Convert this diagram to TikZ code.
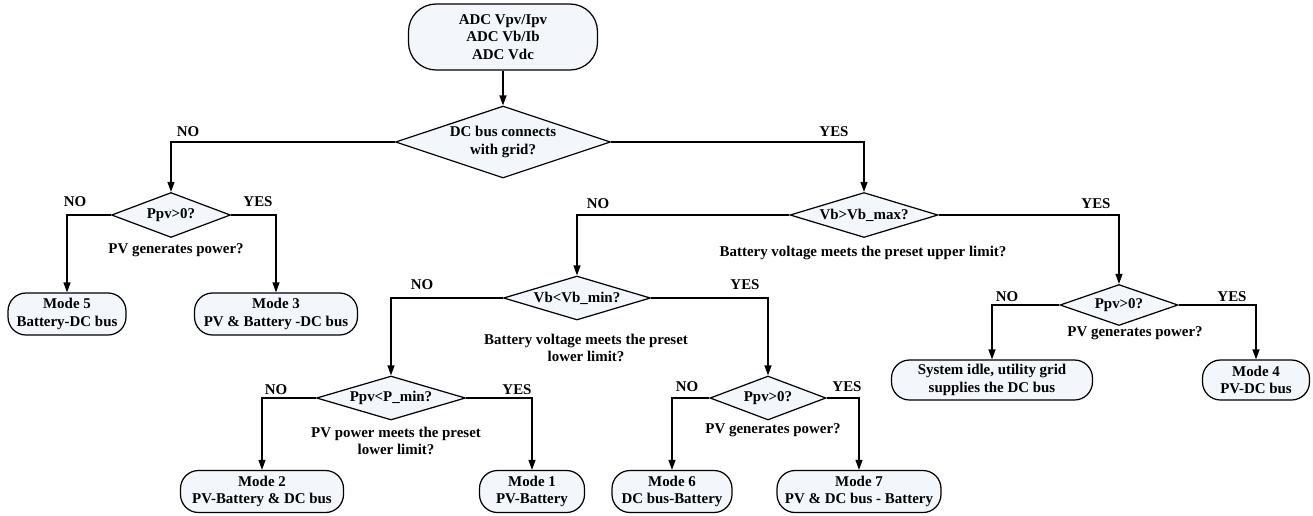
\documentclass[tikz,border=0pt]{standalone}
\usepackage{fontspec}
\setmainfont{Liberation Serif}
\usepackage{tikz}
\usetikzlibrary{shapes.geometric,arrows.meta}
\definecolor{boxfill}{RGB}{243,246,250}
\tikzset{
	modebox/.style={draw,fill=boxfill,rounded corners=0.36cm,align=center,inner sep=1pt,minimum height=0.84cm},
	decision/.style={draw,fill=boxfill,diamond,aspect=3.3,inner sep=0pt,align=center},
	flow/.style={-{Triangle[length=0.2cm,width=0.14cm]}},
	lbl/.style={align=center,inner sep=0pt}
}

\begin{document}
\begin{tikzpicture}[x=0.02cm,y=-0.02cm,line width=0.7pt,every node/.style={font=\fontsize{8.5}{9.8}\selectfont\bfseries}]
		\useasboundingbox (0,0) rectangle (1313,515);
		\node[modebox,minimum width=3.78cm,minimum height=1.32cm,rounded corners=0.55cm] (start) at (503,37) {ADC Vpv/Ipv\\ADC Vb/Ib\\ADC Vdc};
		\node[decision,aspect=3,minimum width=4.3cm,minimum height=1.44cm] (grid) at (503,142) {DC bus connects\\with grid?};
		\node[decision,minimum width=2.38cm,minimum height=0.9cm] (pvA) at (171,215) {Ppv>0?};
		\node[decision,minimum width=2.96cm,minimum height=0.9cm] (vmax) at (864,215) {Vb>Vb\_max?};
		\node[decision,minimum width=2.94cm,minimum height=0.88cm] (vmin) at (577,298) {Vb<Vb\_min?};
		\node[decision,minimum width=2.98cm,minimum height=0.88cm] (pmin) at (391,398) {Ppv<P\_min?};
		\node[decision,minimum width=2.32cm,minimum height=0.88cm] (pvB) at (768,398) {Ppv>0?};
		\node[decision,minimum width=2.36cm,minimum height=0.82cm] (pvC) at (1119,305) {Ppv>0?};
		\node[modebox,minimum width=2.36cm] (mode5) at (67,314) {Mode 5\\Battery-DC bus};
		\node[modebox,minimum width=3.26cm] (mode3) at (276,314) {Mode 3\\PV \& Battery -DC bus};
		\node[modebox,minimum width=3.26cm] (mode2) at (262,491.5) {Mode 2\\PV-Battery \& DC bus};
		\node[modebox,minimum width=2.1cm] (mode1) at (532,491.5) {Mode 1\\PV-Battery};
		\node[modebox,minimum width=2.4cm] (mode6) at (672,491.5) {Mode 6\\DC bus-Battery};
		\node[modebox,minimum width=3.28cm] (mode7) at (859,491.5) {Mode 7\\PV \& DC bus - Battery};
		\node[modebox,minimum width=4.02cm,minimum height=0.8cm] (idle) at (992,380) {System idle, utility grid\\supplies the DC bus};
		\node[modebox,minimum width=2.14cm,minimum height=0.8cm] (mode4) at (1256,380) {Mode 4\\PV-DC bus};
		\node[lbl] (noGrid) at (188,132) {NO};
		\node[lbl] (yesGrid) at (834,132) {YES};
		\node[lbl] (noA) at (75,202) {NO};
		\node[lbl] (yesA) at (258,202) {YES};
		\node[lbl] (qA) at (176,250) {PV generates power?};
		\node[lbl] (noMax) at (598,204) {NO};
		\node[lbl] (yesMax) at (1096,204) {YES};
		\node[lbl] (qMax) at (863,253) {Battery voltage meets the preset upper limit?};
		\node[lbl] (noMin) at (422,285) {NO};
		\node[lbl] (yesMin) at (745,285) {YES};
		\node[lbl] (qMin) at (586,348) {Battery voltage meets the preset\\lower limit?};
		\node[lbl] (noP) at (276,390) {NO};
		\node[lbl] (yesP) at (517,390) {YES};
		\node[lbl] (qP) at (396,441) {PV power meets the preset\\lower limit?};
		\node[lbl] (noB) at (687,387) {NO};
		\node[lbl] (yesB) at (847,387) {YES};
		\node[lbl] (qB) at (773,430) {PV generates power?};
		\node[lbl] (noC) at (1007,297) {NO};
		\node[lbl] (yesC) at (1232,297) {YES};
		\node[lbl] (qC) at (1135,333) {PV generates power?};
		\draw[flow] (start.south) -- (grid.north);
		\draw[flow] (grid.west) -| (pvA.north);
		\draw[flow] (grid.east) -| (vmax.north);
		\draw[flow] (pvA.west) -| (mode5.north);
		\draw[flow] (pvA.east) -| (mode3.north);
		\draw[flow] (vmax.west) -| (vmin.north);
		\draw[flow] (vmax.east) -| (pvC.north);
		\draw[flow] (vmin.west) -| (pmin.north);
		\draw[flow] (vmin.east) -| (pvB.north);
		\draw[flow] (pmin.west) -| (mode2.north);
		\draw[flow] (pmin.east) -| (mode1.north);
		\draw[flow] (pvB.west) -| (mode6.north);
		\draw[flow] (pvB.east) -| (mode7.north);
		\draw[flow] (pvC.west) -| (idle.north);
		\draw[flow] (pvC.east) -| (mode4.north);
\end{tikzpicture}
\end{document}
